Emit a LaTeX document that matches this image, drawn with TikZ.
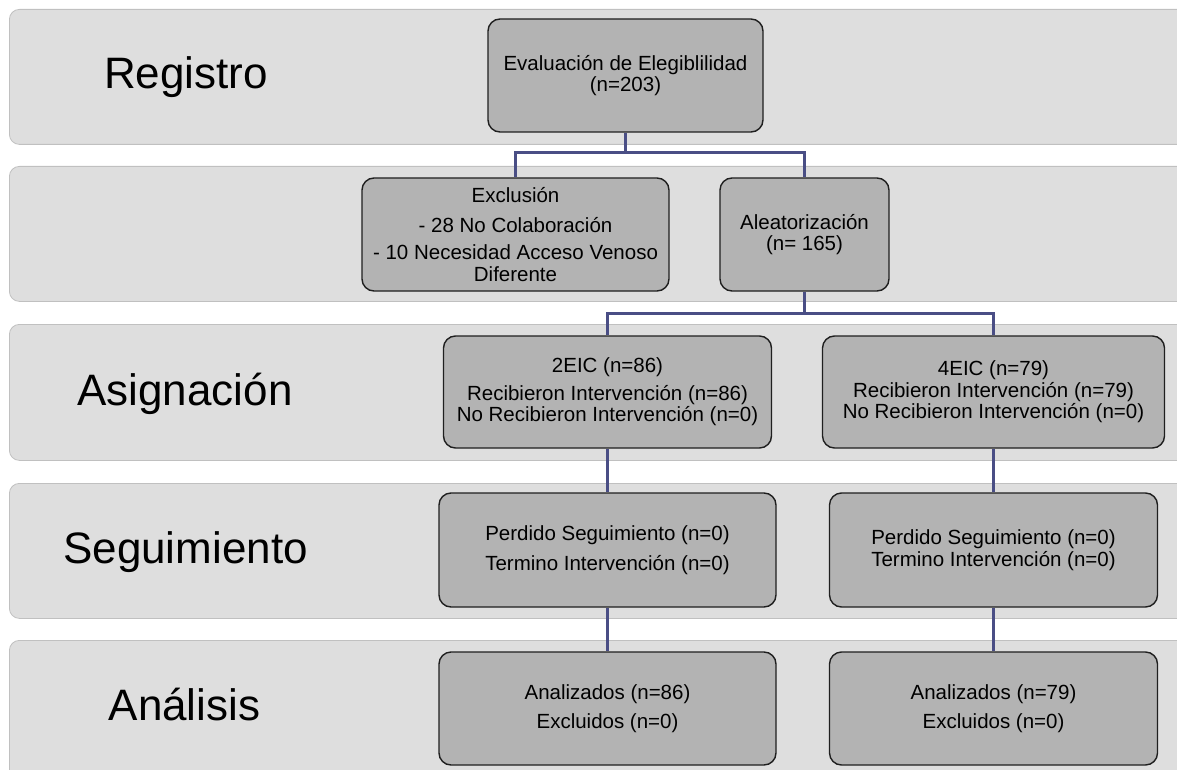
\documentclass[tikz,border=0pt]{standalone}
\usepackage{fontspec}
\setmainfont{Liberation Sans}
\usetikzlibrary{positioning,calc}
\definecolor{bandgray}{RGB}{222,222,222}
\definecolor{bandline}{RGB}{192,192,192}
\definecolor{boxgray}{RGB}{179,179,179}
\definecolor{linkblue}{RGB}{74,78,133}
\tikzset{
band/.style = {draw=bandline, fill=bandgray, rectangle, rounded corners=10pt, anchor=north west, minimum width=1220pt, inner sep=0pt, line width=0.8pt},
stage/.style = {anchor=base, font=\fontsize{44}{46}\selectfont},
block/.style = {draw=black!88, fill=boxgray, rectangle, rounded corners=12pt, line width=1.4pt, align=center, inner sep=0pt, font=\fontsize{20.5}{21.5}\selectfont},
link/.style = {draw=linkblue, line width=3pt},
tmp/.style = {coordinate}
}

\begin{document}
\begin{tikzpicture}[x=1pt, y=-1pt]
        \useasboundingbox (0,0) rectangle (1177,770);
        \node [band, minimum height=135pt] (b_reg) at (9,9) {};
        \node [band, minimum height=135pt] (b_ale) at (9,166) {};
        \node [band, minimum height=136pt] (b_asi) at (9,324) {};
        \node [band, minimum height=135pt] (b_seg) at (9,483) {};
        \node [band, minimum height=150pt] (b_ana) at (9,640) {};
        \node [stage] (l_reg) at (186,89) {Registro};
        \node [stage] (l_asi) at (185,405) {Asignación};
        \node [stage] (l_seg) at (185.5,563) {Seguimiento};
        \node [stage] (l_ana) at (184.5,720) {Análisis};
        \node [block, minimum width=275pt, minimum height=113pt] (eval) at (625.5,75.5) {Evaluación de Elegiblilidad\\(n=203)};
        \node [block, minimum width=307pt, minimum height=113pt] (excl) at (515.5,234.5) {Exclusión\\[8pt]- 28 No Colaboración\\[6pt]- 10 Necesidad Acceso Venoso\\Diferente};
        \node [block, minimum width=169pt, minimum height=113pt] (alea) at (804.5,234.5) {Aleatorización\\(n= 165)};
        \node [block, minimum width=328pt, minimum height=112pt] (eic2) at (607.5,392) {2EIC (n=86)\\[6pt]Recibieron Intervención (n=86)\\No Recibieron Intervención (n=0)};
        \node [block, minimum width=342pt, minimum height=112pt] (eic4) at (993.5,392) {4EIC (n=79)\\Recibieron Intervención (n=79)\\No Recibieron Intervención (n=0)};
        \node [block, minimum width=337pt, minimum height=114pt] (seg2) at (607.5,550) {Perdido Seguimiento (n=0)\\[8pt]Termino Intervención (n=0)};
        \node [block, minimum width=328pt, minimum height=114pt] (seg4) at (993.5,550) {Perdido Seguimiento (n=0)\\Termino Intervención (n=0)};
        \node [block, minimum width=337pt, minimum height=113pt] (ana2) at (607.5,708.5) {Analizados (n=86)\\[8pt]Excluidos (n=0)};
        \node [block, minimum width=328pt, minimum height=113pt] (ana4) at (993.5,708.5) {Analizados (n=79)\\[8pt]Excluidos (n=0)};
        \node [tmp, below=20pt of eval.south] (tmp1) {};
        \node [tmp, below=22pt of alea.south] (tmp2) {};
        \draw [link] (eval.south) -- (tmp1) -| (excl.north);
        \draw [link] (tmp1) -| (alea.north);
        \draw [link] (alea.south) -- (tmp2) -| (eic2.north);
        \draw [link] (tmp2) -| (eic4.north);
        \draw [link] (eic2) -- (seg2);
        \draw [link] (seg2) -- (ana2);
        \draw [link] (eic4) -- (seg4);
        \draw [link] (seg4) -- (ana4);
\end{tikzpicture}
\end{document}
